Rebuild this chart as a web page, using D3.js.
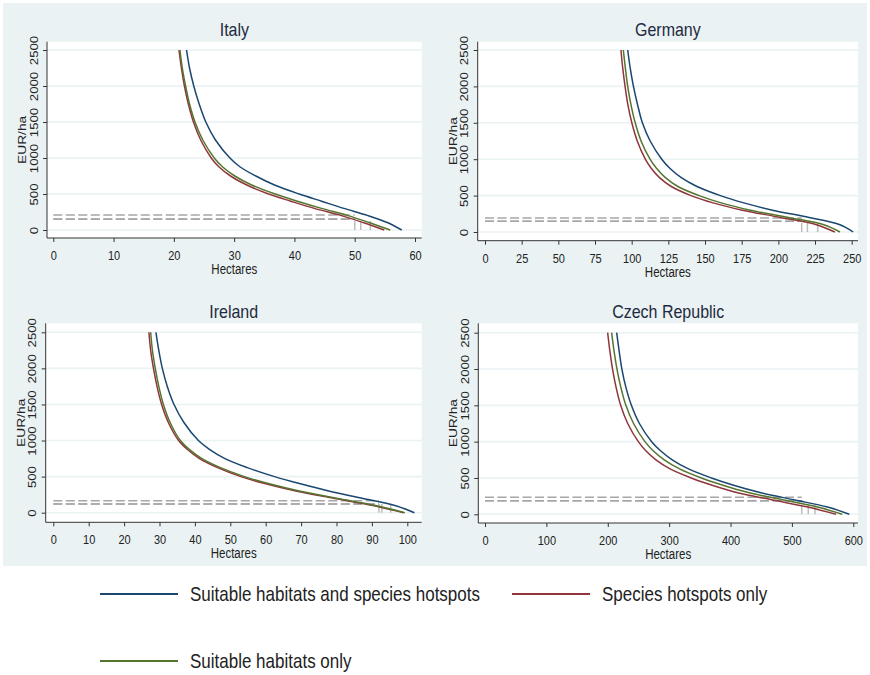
<!DOCTYPE html>
<html>
<head>
<meta charset="utf-8">
<script src="https://cdn.jsdelivr.net/npm/d3@7"></script>
<style>
  body { margin: 0; background: #fff; }
  svg { display: block; font-family: "Liberation Sans", Arial, sans-serif; }
</style>
</head>
<body>
<svg id="visu" width="870" height="675"></svg>
<script>
var vis = d3.select("#visu"),
    WIDTH = 870,
    HEIGHT = 675,
    STRETCH = 1.2;   // the picture is a bit taller than wide, so is the text

var priceLevels = [2500, 2250, 2000, 1750, 1500, 1250, 1000, 875, 750, 625, 500, 400, 300, 200, 100, 0];
var yTicks = [0, 500, 1000, 1500, 2000, 2500];

var seriesNames = ["Suitable habitats and species hotspots", "Species hotspots only", "Suitable habitats only"];
var seriesColors = ["#1a476f", "#90353b", "#55752f"];

var countries = ["Italy", "Germany", "Ireland", "Czech Republic"];
var xTickMax = [60, 250, 100, 600];
var xTickStep = [10, 25, 10, 100];

// hectares at each price level
var italyBoth      = [22.1, 22.6, 23.3, 24.2, 25.3, 26.9, 29.3, 31.0, 33.6, 36.7, 40.8, 44.5, 48.2, 52.2, 55.5, 57.8];
var italyHotspots  = [20.85, 21.25, 21.75, 22.4, 23.25, 24.45, 26.2, 27.5, 29.4, 32.1, 35.7, 39.4, 43.3, 47.8, 51.5, 54.9];
var italyHabitats  = [21.0, 21.4, 21.95, 22.6, 23.5, 24.8, 26.7, 28.1, 30.1, 32.9, 36.8, 40.5, 44.5, 48.9, 52.5, 55.9];

var germanyBoth     = [97.3, 99.0, 101.2, 104.0, 107.3, 112.6, 120.5, 126.0, 133.6, 144.5, 160.5, 176.5, 196.0, 221.0, 242.0, 251.0];
var germanyHotspots = [92.7, 93.9, 95.5, 97.4, 100.1, 103.8, 109.3, 113.3, 118.8, 127.0, 140.5, 155.5, 175.5, 201.5, 226.0, 238.5];
var germanyHabitats = [94.3, 95.7, 97.3, 99.5, 102.4, 106.4, 112.5, 116.9, 122.8, 131.5, 146.0, 161.0, 181.0, 207.0, 231.0, 242.0];

var irelandBoth     = [29.0, 29.8, 30.8, 32.2, 34.1, 36.9, 41.0, 44.2, 48.5, 54.8, 62.5, 69.8, 77.8, 87.2, 96.5, 102.0];
var irelandHotspots = [27.0, 27.5, 28.3, 29.3, 30.6, 32.5, 35.4, 37.9, 41.3, 46.4, 53.0, 60.0, 68.5, 79.2, 90.3, 98.9];
var irelandHabitats = [27.5, 28.0, 28.8, 29.8, 31.1, 33.0, 35.9, 38.5, 42.0, 47.2, 54.0, 61.0, 69.5, 80.0, 91.0, 99.3];

var czechBoth     = [214.5, 218.5, 223.0, 229.5, 238.5, 251.5, 271.5, 286.0, 305.0, 331.5, 369.0, 405.0, 448.0, 503.0, 558.0, 593.5];
var czechHotspots = [199.8, 203.4, 207.8, 213.5, 221.0, 232.5, 249.8, 262.0, 278.5, 301.5, 336.0, 370.0, 410.0, 467.0, 526.0, 571.8];
var czechHabitats = [206.3, 210.2, 215.0, 221.2, 229.5, 242.0, 260.6, 274.0, 292.0, 317.0, 352.5, 387.5, 429.0, 485.0, 542.0, 582.0];

// grey reference lines: price and area for each scenario (both, hotspots, habitats)
var italyCutPrice   = [208, 148, 153];
var italyCutArea    = [52.6, 50.0, 51.0];
var germanyCutPrice = [192, 146, 146];
var germanyCutArea  = [226.8, 215.9, 219.8];
var irelandCutPrice = [166, 120, 120];
var irelandCutArea  = [95.3, 92.0, 92.8];
var czechCutPrice   = [234, 188, 188];
var czechCutArea    = [537.6, 516.0, 526.6];

var curves = [
  [italyBoth, italyHotspots, italyHabitats],
  [germanyBoth, germanyHotspots, germanyHabitats],
  [irelandBoth, irelandHotspots, irelandHabitats],
  [czechBoth, czechHotspots, czechHabitats]
];
var cutPrices = [italyCutPrice, germanyCutPrice, irelandCutPrice, czechCutPrice];
var cutAreas = [italyCutArea, germanyCutArea, irelandCutArea, czechCutArea];

// where each panel sits on the page
var LAYOUT = [
  { x0: 53.3, x1: 415,   y0: 230,   y1: 50,    box: [47, 41.7, 421.7, 238] },
  { x0: 485,  x1: 851.7, y0: 232,   y1: 50,    box: [477.7, 41.7, 858, 240.7] },
  { x0: 53.3, x1: 407.3, y0: 512.7, y1: 332.3, box: [45.7, 323.3, 421.7, 522.3] },
  { x0: 485,  x1: 853.3, y0: 514.3, y1: 332.7, box: [478.3, 323.3, 858, 523] }
];

// graph region
vis.append("rect")
  .attr("x", 3).attr("y", 3)
  .attr("width", WIDTH - 6).attr("height", 563)
  .attr("fill", "#eaf2f3");

countries.forEach(function(name, k) {
  var L = LAYOUT[k],
      b = L.box,
      g = vis.append("g");

  var xScale = d3.scaleLinear().domain([0, xTickMax[k]]).range([L.x0, L.x1]),
      yScale = d3.scaleLinear().domain([0, 2500]).range([L.y0, L.y1]);

  // plot region
  g.append("rect")
    .attr("x", b[0]).attr("y", b[1])
    .attr("width", b[2] - b[0]).attr("height", b[3] - b[1])
    .attr("fill", "#fff");

  g.selectAll(".grid").data(yTicks).enter().append("line")
    .attr("x1", b[0]).attr("x2", b[2])
    .attr("y1", function(d) { return yScale(d); })
    .attr("y2", function(d) { return yScale(d); })
    .attr("stroke", "#eaf2f3")
    .attr("stroke-width", 1.6);

  // reference lines
  var cuts = cutPrices[k].map(function(p, i) { return { price: p, area: cutAreas[k][i] }; });
  var hEnd = d3.min(cutAreas[k]);

  g.selectAll(".hcut").data(cuts).enter().append("line")
    .attr("x1", xScale(0))
    .attr("x2", xScale(hEnd))
    .attr("y1", function(d) { return yScale(d.price); })
    .attr("y2", function(d) { return yScale(d.price); })
    .attr("stroke", "#a6a6a6")
    .attr("stroke-width", 1.5)
    .attr("stroke-dasharray", "9,3.5");

  g.selectAll(".vcut").data(cuts).enter().append("line")
    .attr("x1", function(d) { return xScale(d.area); })
    .attr("x2", function(d) { return xScale(d.area); })
    .attr("y1", yScale(0))
    .attr("y2", function(d) { return yScale(d.price); })
    .attr("stroke", "#bdbdbd")
    .attr("stroke-width", 1.5)
    .attr("stroke-dasharray", "9,8");

  var lineGen = d3.line()
    .x(function(d) { return xScale(d[0]); })
    .y(function(d) { return yScale(d[1]); })
    .curve(d3.curveCatmullRom.alpha(0.5));

  [1, 2, 0].forEach(function(s) {
    var pts = curves[k][s].map(function(h, i) { return [h, priceLevels[i]]; });
    g.append("path")
      .attr("d", lineGen(pts))
      .attr("fill", "none")
      .attr("stroke", seriesColors[s])
      .attr("stroke-width", 1.5);
  });

  // axes
  var yAxis = d3.axisLeft(yScale).tickValues(yTicks).tickFormat(d3.format("d"))
    .tickSize(4).tickSizeOuter(0);
  var ya = g.append("g")
    .attr("transform", "translate(" + b[0] + ",0)")
    .call(yAxis)
    .attr("font-size", 11)
    .attr("font-family", null);
  ya.select(".domain").remove();
  ya.selectAll("line").attr("stroke", "#333");
  ya.selectAll("text")
    .attr("x", 0).attr("y", -9.5).attr("dy", 0)
    .attr("fill", "#222")
    .attr("text-anchor", "middle")
    .attr("transform", "rotate(-90) scale(" + STRETCH + ",1)");

  var xAxis = d3.axisBottom(xScale)
    .tickValues(d3.range(0, xTickMax[k] + 1, xTickStep[k]))
    .tickFormat(d3.format("d"))
    .tickSize(4).tickSizeOuter(0);
  var xa = g.append("g")
    .attr("transform", "translate(0," + b[3] + ")")
    .call(xAxis)
    .attr("font-size", 11)
    .attr("font-family", null);
  xa.select(".domain").remove();
  xa.selectAll("line").attr("stroke", "#333");
  xa.selectAll("text")
    .attr("y", 18.5).attr("dy", 0)
    .attr("fill", "#222")
    .attr("transform", "scale(1," + STRETCH + ")");

  g.append("path")
    .attr("d", "M" + b[0] + "," + b[1] + "V" + b[3] + "H" + b[2])
    .attr("fill", "none")
    .attr("stroke", "#333")
    .attr("stroke-width", 1);

  // titles
  g.append("text")
    .attr("transform", "translate(" + ((b[0] + b[2]) / 2) + "," + (b[1] - 5.5) + ") scale(1," + STRETCH + ")")
    .attr("text-anchor", "middle")
    .attr("font-size", 16)
    .attr("fill", "#1e2a40")
    .text(name);

  g.append("text")
    .attr("transform", "translate(" + ((b[0] + b[2]) / 2) + "," + (b[3] + 36) + ") scale(1," + STRETCH + ")")
    .attr("text-anchor", "middle")
    .attr("font-size", 11.5)
    .attr("fill", "#222")
    .text("Hectares");

  g.append("text")
    .attr("transform", "translate(" + (b[0] - 21) + "," + ((b[1] + b[3]) / 2) + ") rotate(-90) scale(" + STRETCH + ",1)")
    .attr("text-anchor", "middle")
    .attr("font-size", 11.5)
    .attr("fill", "#222")
    .text("EUR/ha");
});

// legend
var legendPos = [[100, 594], [512, 594], [100, 661]];
seriesNames.forEach(function(label, i) {
  var p = legendPos[i];
  vis.append("line")
    .attr("x1", p[0]).attr("x2", p[0] + 78)
    .attr("y1", p[1]).attr("y2", p[1])
    .attr("stroke", seriesColors[i])
    .attr("stroke-width", 2);
  vis.append("text")
    .attr("transform", "translate(" + (p[0] + 90) + "," + p[1] + ") scale(1," + STRETCH + ")")
    .attr("dy", "0.36em")
    .attr("font-size", 17)
    .attr("fill", "#222")
    .text(label);
});
</script>
</body>
</html>
